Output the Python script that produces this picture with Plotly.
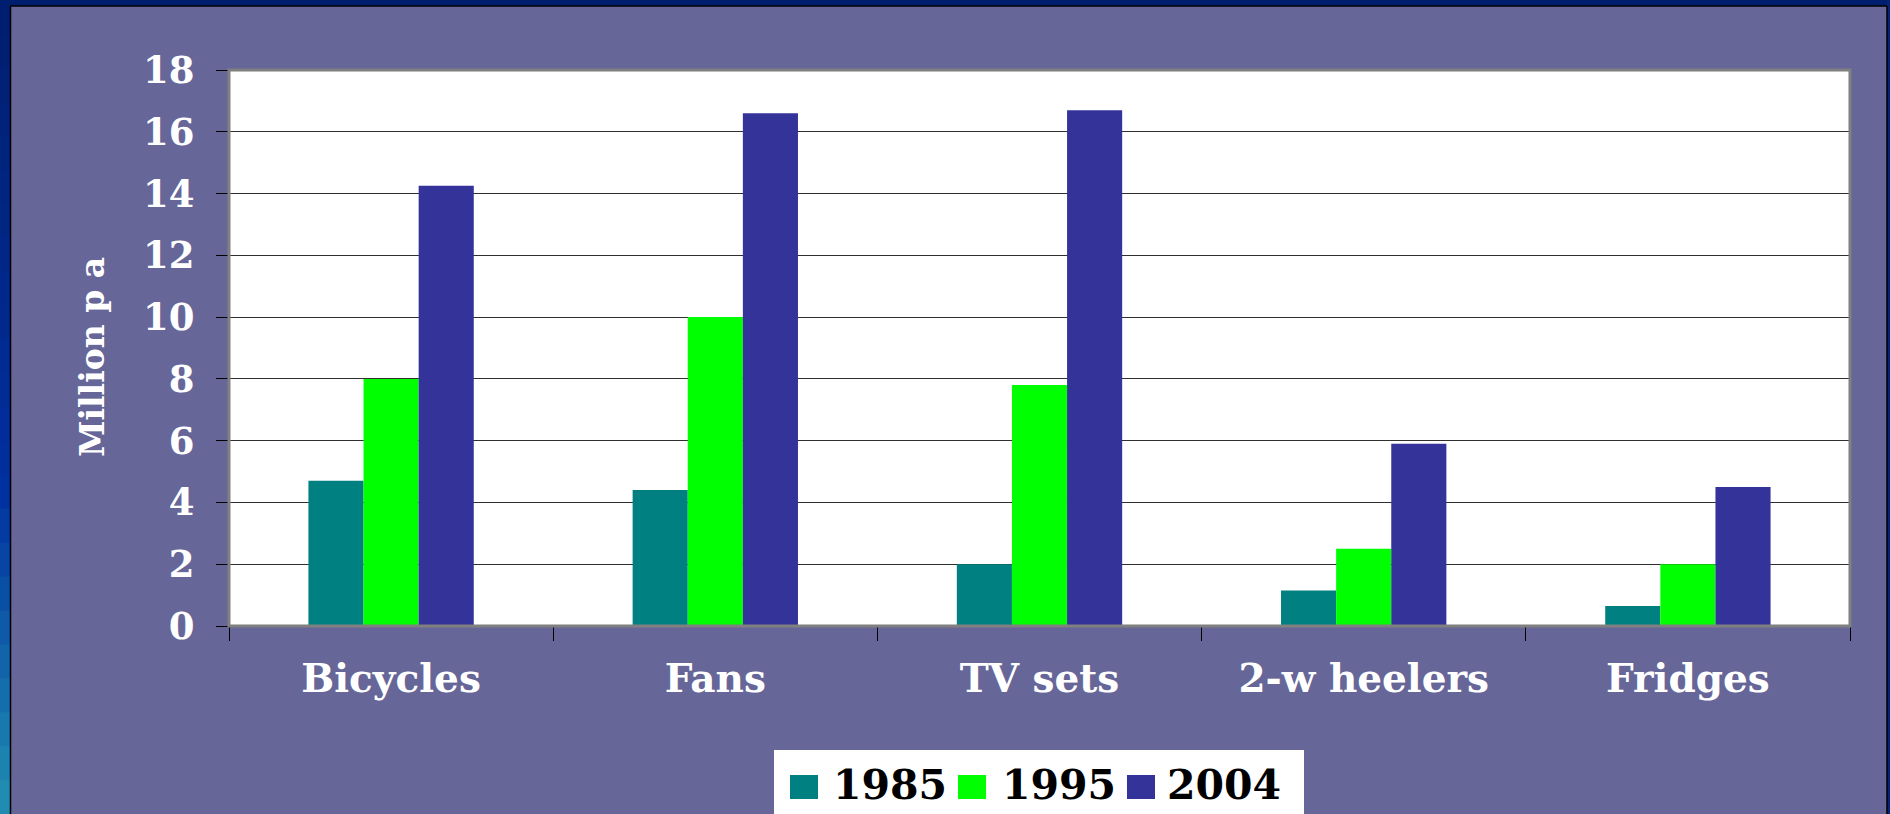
import plotly.graph_objects as go

categories = ["Bicycles", "Fans", "TV sets", "2-w heelers", "Fridges"]
series_names = ["1985", "1995", "2004"]
values_1985 = [4.7, 4.4, 2.0, 1.15, 0.65]
values_1995 = [8.0, 10.0, 7.8, 2.5, 2.0]
values_2004 = [14.25, 16.6, 16.7, 5.9, 4.5]
series_values = [values_1985, values_1995, values_2004]
colors = ["#008080", "#00FF00", "#333399"]
y_ticks = [0, 2, 4, 6, 8, 10, 12, 14, 16, 18]
y_title = "Million p a"

W, H = 1890, 814
L, R, T, B = 229, 1850, 70, 626
FONT = "DejaVu Serif"
PURPLE = "#666699"


def px_x(p):
    return (p - L) / (R - L)


def px_y(p):
    return (B - p) / (B - T)


fig = go.Figure()
for name, vals, col in zip(series_names, series_values, colors):
    fig.add_trace(go.Bar(x=categories, y=vals, name=name, marker_color=col,
                         marker_line_width=0, showlegend=False))

shapes = []


def rect(x0, y0, x1, y1, fill, layer="above"):
    return dict(type="rect", xref="paper", yref="paper",
                x0=px_x(x0), x1=px_x(x1), y0=px_y(y0), y1=px_y(y1),
                fillcolor=fill, layer=layer, line=dict(width=0))


shapes.append(rect(0, 0, W, 6, "#001E6E"))
shapes.append(rect(1887, 0, W, H, "#00247A"))
# left gradient strip (decoration)
top_c = (0, 30, 110)
mid_c = (0, 48, 160)
bot_c = (34, 146, 180)
n = 24
for i in range(n):
    y0 = H * i / n
    y1 = H * (i + 1) / n
    t = (i + 0.5) / n
    if t < 0.6:
        u = t / 0.6
        c = tuple(int(top_c[k] + (mid_c[k] - top_c[k]) * u) for k in range(3))
    else:
        u = (t - 0.6) / 0.4
        c = tuple(int(mid_c[k] + (bot_c[k] - mid_c[k]) * u) for k in range(3))
    shapes.append(rect(0, y0, 10, y1 + 1, "rgb(%d,%d,%d)" % c))
# black edge lines of panel
shapes.append(dict(type="line", xref="paper", yref="paper", x0=px_x(10.5), x1=px_x(10.5),
                   y0=px_y(6), y1=px_y(H), line=dict(color="black", width=1.5)))
shapes.append(dict(type="line", xref="paper", yref="paper", x0=px_x(10), x1=px_x(1887),
                   y0=px_y(6), y1=px_y(6), line=dict(color="black", width=1.5)))
shapes.append(dict(type="line", xref="paper", yref="paper", x0=px_x(1887), x1=px_x(1887),
                   y0=px_y(6), y1=px_y(H), line=dict(color="black", width=1.5)))
# plot frame (grey shadow border)
shapes.append(dict(type="rect", xref="x domain", yref="y domain", x0=0, x1=1, y0=0, y1=1,
                   line=dict(color="#808080", width=3), layer="above"))
# legend box
shapes.append(rect(774, 750, 1304, H + 2, "white"))

annotations = []
sw_x = [790, 958, 1127]
tx_x = [833, 1002, 1167]
for name, col, sx, tx in zip(series_names, colors, sw_x, tx_x):
    shapes.append(rect(sx, 775, sx + 28, 799, col))
    annotations.append(dict(xref="paper", yref="paper", x=px_x(tx - 2), y=px_y(785),
                            xanchor="left", yanchor="middle", showarrow=False,
                            text="<b>%s</b>" % name,
                            font=dict(family=FONT, size=41, color="black")))

# y-axis title
annotations.append(dict(xref="paper", yref="paper", x=px_x(92), y=px_y(357),
                        xanchor="center", yanchor="middle", showarrow=False,
                        textangle=-90, text="<b>%s</b>" % y_title,
                        font=dict(family=FONT, size=33, color="white")))

fig.update_layout(
    width=W, height=H,
    margin=dict(l=L, r=W - R, t=T, b=H - B, pad=0, autoexpand=False),
    paper_bgcolor=PURPLE, plot_bgcolor="white",
    barmode="group", bargap=0.49, bargroupgap=0,
    shapes=shapes, annotations=annotations,
    showlegend=False,
    font=dict(family=FONT, color="white"),
)
fig.update_xaxes(
    type="category", automargin=False, showgrid=False, showline=True, linecolor="black",
    linewidth=1, ticks="outside", tickson="boundaries", ticklen=14, tickcolor="black",
    tickwidth=1,
    tickfont=dict(family=FONT, size=39, color="white", weight="bold"),
    ticklabelstandoff=18,
)
fig.update_yaxes(
    range=[0, 18], tickvals=y_ticks, automargin=False, showgrid=True, gridcolor="#303030",
    gridwidth=1, showline=True, linecolor="black", linewidth=1, zeroline=False,
    ticks="outside", ticklen=12, tickcolor="black", tickwidth=1,
    tickfont=dict(family=FONT, size=37, color="white", weight="bold"),
    ticklabelstandoff=14,
)

fig.write_html(
    "out.html",
    config={"displayModeBar": False},
    post_script="document.body.style.margin='0';document.body.style.overflow='hidden';",
)
